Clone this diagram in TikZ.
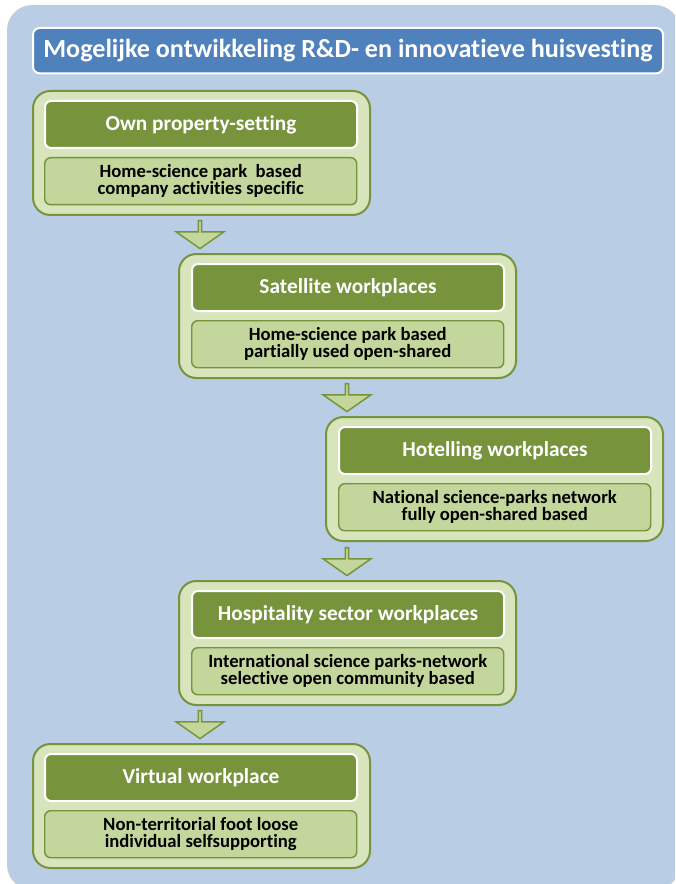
\documentclass[tikz,border=0pt]{standalone}
\usepackage{fontspec}
\setmainfont{Carlito}[Ligatures=NoCommon]
\usepackage{tikz}
\usetikzlibrary{shapes.arrows}

\definecolor{bgblue}{HTML}{B9CDE5}
\definecolor{titleblue}{HTML}{4F81BD}
\definecolor{paleg}{HTML}{D7E4BC}
\definecolor{darkg}{HTML}{77933C}
\definecolor{midg}{HTML}{C3D69B}

\begin{document}
\begin{tikzpicture}[x=0.75pt,y=-0.75pt]
\tikzstyle{title}=[rectangle,rounded corners=5pt,fill=titleblue,draw=white,line width=1.5pt,minimum width=472.5pt,minimum height=34pt,anchor=north west,text=white,font=\fontsize{19.6}{22}\selectfont\bfseries]
\tikzstyle{group}=[rectangle,rounded corners=13pt,fill=paleg,draw=darkg,line width=1.5pt,minimum width=252.75pt,minimum height=93pt,anchor=north west]
\tikzstyle{head}=[rectangle,rounded corners=4.5pt,fill=darkg,draw=white,line width=1.5pt,minimum width=234pt,minimum height=35.25pt,anchor=north west,text=white,font=\fontsize{16}{18}\selectfont\bfseries]
\tikzstyle{sub}=[rectangle,rounded corners=4.5pt,fill=midg,draw=darkg,line width=1.1pt,minimum width=234pt,minimum height=35.25pt,anchor=north west,align=center,inner sep=2pt,font=\fontsize{14}{12.8}\selectfont\bfseries]
\tikzstyle{down}=[single arrow,shape border rotate=270,fill=midg,draw=darkg,line width=1.1pt,inner sep=0pt,minimum height=21pt,minimum width=36pt,single arrow head extend=7.5pt,single arrow tip angle=110]
\useasboundingbox (0,0) rectangle (675,884);
\clip (0,0) rectangle (675,884);
\fill[bgblue,rounded corners=19pt] (7,5) rectangle (680,890);
\node[title] (t) at (32,27) {Mogelijke ontwikkeling R\&D- en innovatieve huisvesting};
% own property
\node[group] (g1) at (32,90) {};
\node[head] (h1) at (44,100) {Own property-setting};
\node[sub] (s1) at (44,157) {Home-science park\ \ based\\company activities specific};
% satellite
\node[group] (g2) at (178,253) {};
\node[head] (h2) at (191,263) {Satellite workplaces};
\node[sub] (s2) at (191,320) {Home-science park based\\partially used open-shared};
% hotelling
\node[group] (g3) at (325,416) {};
\node[head] (h3) at (338,426) {Hotelling workplaces};
\node[sub] (s3) at (338,483) {National science-parks network\\fully open-shared based};
% hospitality
\node[group] (g4) at (178,580) {};
\node[head] (h4) at (191,590) {Hospitality sector workplaces};
\node[sub] (s4) at (191,647) {International science parks-network\\selective open community based};
% virtual
\node[group] (g5) at (32,743) {};
\node[head] (h5) at (44,753) {Virtual workplace};
\node[sub] (s5) at (44,810) {Non-territorial foot loose\\individual selfsupporting};
% arrows
\node[down] (a1) at (200,234) {};
\node[down] (a2) at (347,397) {};
\node[down] (a3) at (347,561) {};
\node[down] (a4) at (200,724) {};
\end{tikzpicture}
\end{document}
